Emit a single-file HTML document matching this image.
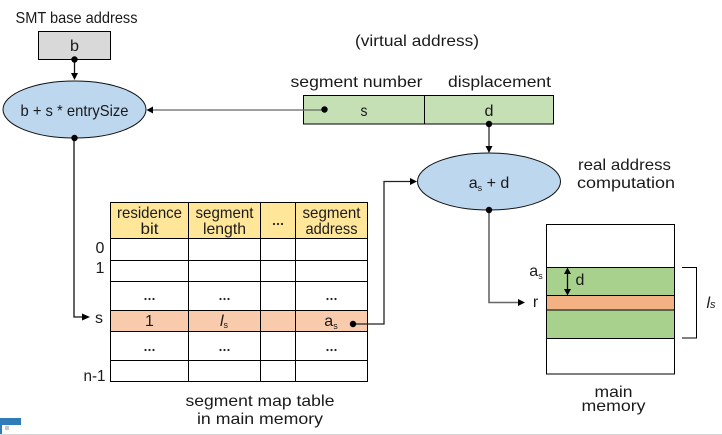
<!DOCTYPE html>
<html><head><meta charset="utf-8">
<style>
html,body{margin:0;padding:0;background:#fff;width:722px;height:435px;overflow:hidden}
svg{display:block}
text{font-family:"Liberation Sans",sans-serif;font-size:16px;fill:#1a1a1a;text-anchor:middle}
</style></head><body>
<svg width="722" height="435" viewBox="0 0 722 435" xmlns="http://www.w3.org/2000/svg">
<defs>
<g id="dots"><circle cx="-4" cy="0" r="1.1" fill="#222"/><circle cx="0" cy="0" r="1.1" fill="#222"/><circle cx="4" cy="0" r="1.1" fill="#222"/></g>
</defs>

<!-- b box -->
<rect x="38.5" y="31.5" width="72" height="28" fill="#d9d9d9" stroke="#000" stroke-width="1"/>
<text x="76.5" y="23" textLength="122" lengthAdjust="spacingAndGlyphs">SMT base address</text>
<text x="74.500" y="51" textLength="9" lengthAdjust="spacingAndGlyphs">b</text>

<!-- ellipse 1 -->
<ellipse cx="74.500" cy="109.500" rx="71.500" ry="28.500" fill="#bdd7ee" stroke="#111" stroke-width="1"/>
<text x="74.500" y="116" textLength="108" lengthAdjust="spacingAndGlyphs">b + s * entrySize</text>

<!-- virtual address -->
<text x="417" y="46" textLength="124" lengthAdjust="spacingAndGlyphs">(virtual address)</text>
<text x="356.500" y="87" textLength="132" lengthAdjust="spacingAndGlyphs">segment number</text>
<text x="499.500" y="87" textLength="103" lengthAdjust="spacingAndGlyphs">displacement</text>
<rect x="303.500" y="95.500" width="250" height="28.500" fill="#c5e0b4" stroke="#000" stroke-width="1"/>
<line x1="424.500" y1="95.500" x2="424.500" y2="124" stroke="#000"/>
<text x="364" y="116" textLength="7" lengthAdjust="spacingAndGlyphs">s</text>
<text x="489" y="116" textLength="9" lengthAdjust="spacingAndGlyphs">d</text>

<!-- ellipse 2 -->
<ellipse cx="489" cy="181.500" rx="71.500" ry="28.500" fill="#bdd7ee" stroke="#111" stroke-width="1"/>
<text x="489" y="188" font-size="15"><tspan>a</tspan><tspan font-size="9" dy="3">s</tspan><tspan dy="-3"> + d</tspan></text>
<text x="624.500" y="170" textLength="93" lengthAdjust="spacingAndGlyphs">real address</text>
<text x="626" y="188" textLength="98" lengthAdjust="spacingAndGlyphs">computation</text>

<!-- table -->
<rect x="110.500" y="202.500" width="257" height="36" fill="#ffe699"/>
<rect x="110.500" y="310.500" width="257" height="20.500" fill="#f8cbad"/>
<g stroke="#000" stroke-width="1" fill="none">
<rect x="110.500" y="202.500" width="257" height="179"/>
<line x1="188.500" y1="202.500" x2="188.500" y2="381.500"/>
<line x1="260.500" y1="202.500" x2="260.500" y2="381.500"/>
<line x1="295.500" y1="202.500" x2="295.500" y2="381.500"/>
<line x1="110.500" y1="238.500" x2="367.500" y2="238.500"/>
<line x1="110.500" y1="260.500" x2="367.500" y2="260.500"/>
<line x1="110.500" y1="281.500" x2="367.500" y2="281.500"/>
<line x1="110.500" y1="310.500" x2="367.500" y2="310.500"/>
<line x1="110.500" y1="331.500" x2="367.500" y2="331.500"/>
<line x1="110.500" y1="360.500" x2="367.500" y2="360.500"/>
</g>
<text x="149.500" y="218" textLength="65" lengthAdjust="spacingAndGlyphs">residence</text>
<text x="149.500" y="234" textLength="18" lengthAdjust="spacingAndGlyphs">bit</text>
<text x="224.500" y="218" textLength="58" lengthAdjust="spacingAndGlyphs">segment</text>
<text x="224.500" y="234" textLength="43" lengthAdjust="spacingAndGlyphs">length</text>
<use href="#dots" x="278" y="224"/>
<text x="331.500" y="218" textLength="58" lengthAdjust="spacingAndGlyphs">segment</text>
<text x="331.500" y="234" textLength="52" lengthAdjust="spacingAndGlyphs">address</text>
<use href="#dots" x="149.500" y="299"/><use href="#dots" x="224.500" y="299"/><use href="#dots" x="331.500" y="299"/>
<use href="#dots" x="149.500" y="350"/><use href="#dots" x="224.500" y="350"/><use href="#dots" x="331.500" y="350"/>
<text x="149.500" y="326" font-size="15">1</text>
<text x="224" y="326" font-size="15" font-style="italic">l<tspan font-size="9" dy="2" font-style="normal">s</tspan></text>
<text x="331" y="326" font-size="15">a<tspan font-size="9" dy="3">s</tspan></text>

<text x="100" y="253" font-size="15">0</text>
<text x="100" y="273" font-size="15">1</text>
<text x="99" y="323" font-size="15">s</text>
<text x="94.500" y="381" textLength="22" lengthAdjust="spacingAndGlyphs">n-1</text>
<text x="260" y="406" textLength="149" lengthAdjust="spacingAndGlyphs">segment map table</text>
<text x="260" y="424" textLength="126" lengthAdjust="spacingAndGlyphs">in main memory</text>

<!-- memory -->
<rect x="546.500" y="267.500" width="128" height="71" fill="#a9d18e"/>
<rect x="546.500" y="295.500" width="128" height="14.500" fill="#f4b183"/>
<g stroke="#000" stroke-width="1" fill="none">
<rect x="546.500" y="224.500" width="128" height="149.500"/>
<line x1="546.500" y1="267.500" x2="674.500" y2="267.500"/>
<line x1="546.500" y1="295.500" x2="674.500" y2="295.500"/>
<line x1="546.500" y1="310" x2="674.500" y2="310"/>
<line x1="546.500" y1="338.500" x2="674.500" y2="338.500"/>
<path d="M682 267.500H696.500V338H682"/>
</g>
<text x="536" y="276" font-size="15">a<tspan font-size="9" dy="3">s</tspan></text>
<text x="535.500" y="307" font-size="15">r</text>
<text x="580" y="285" font-size="13">d</text>
<text x="711" y="308" font-size="16" font-style="italic">l<tspan font-size="11">s</tspan></text>
<text x="613.500" y="397" textLength="38" lengthAdjust="spacingAndGlyphs">main</text>
<text x="613.500" y="411" textLength="64" lengthAdjust="spacingAndGlyphs">memory</text>

<!-- connectors -->
<g fill="none" stroke-width="1.300">
<line x1="74.500" y1="60" x2="74.500" y2="74" stroke="#111"/>
<path d="M74 138V317H82" stroke="#111"/>
<line x1="153" y1="110" x2="324" y2="110" stroke="#666"/>
<line x1="489" y1="124" x2="489" y2="147" stroke="#555" stroke-width="1.600"/>
<path d="M354 324H384V181.500H411" stroke="#222"/>
<path d="M489 210V302.500H522" stroke="#666" stroke-width="1.600"/>
<line x1="567.500" y1="272" x2="567.500" y2="291" stroke="#000"/>
</g>
<g fill="#000">
<circle cx="74.500" cy="59.500" r="3.200"/>
<path d="M71 73H78L74.500 80Z"/>
<circle cx="74.500" cy="138" r="3.200"/>
<path d="M146.500 110L153 106.500V113.500Z"/>
<circle cx="324.500" cy="109.500" r="3.200"/>
<circle cx="489" cy="124" r="3.200"/>
<path d="M485.500 146H492.500L489 153Z"/>
<path d="M410 178L417 181.500L410 185Z"/>
<circle cx="489" cy="210" r="3.200"/>
<path d="M82 313.500L90 317L82 320.500Z"/>
<circle cx="353" cy="324" r="3.200"/>
<path d="M518 299L525 302.500L518 306Z"/>
<path d="M567.500 267.500L571 274H564Z"/>
<path d="M567.500 295.500L571 289H564Z"/>
</g>

<!-- bottom window artefact -->
<rect x="0" y="434" width="722" height="1" fill="#d4d4d4"/>
<rect x="0" y="418" width="21" height="7" fill="#2e7db8"/>
<rect x="0" y="425" width="2" height="9" fill="#2e7db8"/>
<rect x="5" y="426" width="4" height="4" fill="#c8c8c8"/>
</svg>
</body></html>
